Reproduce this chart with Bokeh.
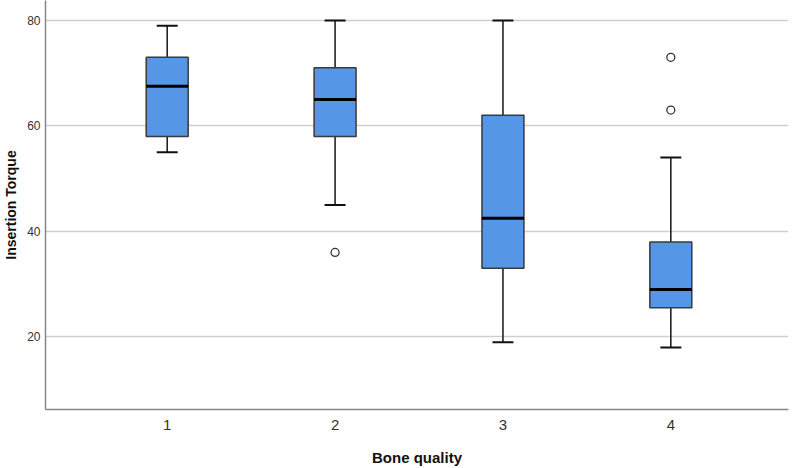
from bokeh.plotting import figure
from bokeh.models import Range1d, FixedTicker, ColumnDataSource
from bokeh.embed import file_html
from bokeh.resources import INLINE

# Data
groups = [1, 2, 3, 4]
tick_labels = {1: "1", 2: "2", 3: "3", 4: "4"}
lower_whisker = [55, 45, 19, 18]
q1 = [58, 58, 33, 25.5]
median = [67.5, 65, 42.5, 29]
q3 = [73, 71, 62, 38]
upper_whisker = [79, 80, 80, 54]
outlier_group = [2, 4, 4]
outlier_value = [36, 63, 73]

FONT = "Liberation Sans"
FILL = "#5596e6"

p = figure(width=789, height=468, output_backend="svg", toolbar_location=None,
           x_range=Range1d(0.275, 4.701), y_range=Range1d(6.23, 83.77),
           min_border_left=40, min_border_right=1, min_border_top=0,
           min_border_bottom=57)
p.outline_line_color = None
p.background_fill_color = "white"
p.border_fill_color = "white"

box_w = 0.25
cap_w = 0.125
src = ColumnDataSource(dict(x=groups, lw=lower_whisker, q1=q1, med=median, q3=q3, uw=upper_whisker,
                            cl=[g - cap_w / 2 for g in groups], cr=[g + cap_w / 2 for g in groups],
                            bl=[g - box_w / 2 for g in groups], br=[g + box_w / 2 for g in groups]))

# whiskers
p.segment(x0="x", y0="q3", x1="x", y1="uw", source=src, line_color="#222222", line_width=1.6)
p.segment(x0="x", y0="lw", x1="x", y1="q1", source=src, line_color="#222222", line_width=1.6)
p.segment(x0="cl", y0="uw", x1="cr", y1="uw", source=src, line_color="#111111", line_width=2)
p.segment(x0="cl", y0="lw", x1="cr", y1="lw", source=src, line_color="#111111", line_width=2)
# boxes
p.vbar(x="x", width=box_w, bottom="q1", top="q3", source=src, fill_color=FILL,
       line_color="#3a3a3a", line_width=1.5)
# medians
p.segment(x0="bl", y0="med", x1="br", y1="med", source=src, line_color="black", line_width=3)
# outliers
p.scatter(outlier_group, outlier_value, marker="circle", size=8, fill_color="white",
          line_color="#333333", line_width=1.3)

# axes
p.xaxis.ticker = FixedTicker(ticks=groups)
p.xaxis.major_label_overrides = tick_labels
p.yaxis.ticker = FixedTicker(ticks=[20, 40, 60, 80])
for ax in (p.xaxis, p.yaxis):
    ax.major_tick_line_color = None
    ax.minor_tick_line_color = None
    ax.major_tick_out = 0
    ax.major_tick_in = 0
    ax.axis_line_color = "#888888"
    ax.axis_line_width = 1.5
    ax.major_label_text_font = FONT
    ax.major_label_text_color = "#333333"
    ax.axis_label_text_font = FONT
    ax.axis_label_text_font_style = "bold"
    ax.axis_label_text_color = "#111111"

p.xaxis.axis_label = "Bone quality"
p.xaxis.major_label_text_font_size = "15px"
p.xaxis.major_label_standoff = 10
p.xaxis.axis_label_text_font_size = "15px"
p.xaxis.axis_label_standoff = 16

p.yaxis.axis_label = "Insertion Torque"
p.yaxis.major_label_text_font_size = "12px"
p.yaxis.major_label_standoff = 5
p.yaxis.axis_label_text_font_size = "14px"
p.yaxis.axis_label_standoff = 5

p.xgrid.grid_line_color = None
p.ygrid.grid_line_color = "#cfcfcf"
p.ygrid.grid_line_width = 1.5

open("out.html", "w").write(file_html(p, INLINE))
